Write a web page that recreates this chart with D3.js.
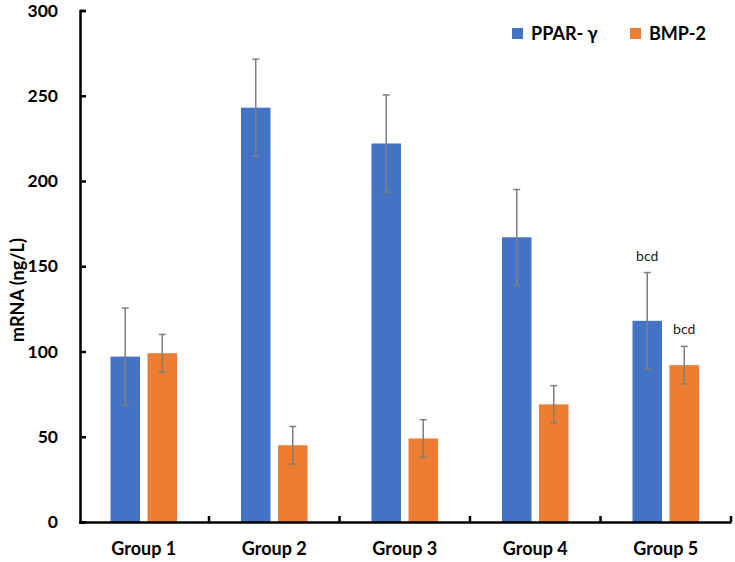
<!DOCTYPE html>
<html><head><meta charset="utf-8">
<script src="https://cdn.jsdelivr.net/npm/d3@7"></script>
<style>body{margin:0;background:#fff}svg{display:block}text{font-family:Lato,"Open Sans",sans-serif}</style>
</head><body>
<script>
const groups = ["Group 1","Group 2","Group 3","Group 4","Group 5"];
const series = ["PPAR- γ","BMP-2"];
const pparValues = [97, 243, 222, 167, 118];
const pparErrors = [28.5, 28.5, 28.5, 28, 28.3];
const bmpValues = [99, 45, 49, 69, 92];
const bmpErrors = [11, 11, 11, 11, 11];
const pparLabels = ["", "", "", "", "bcd"];
const bmpLabels = ["", "", "", "", "bcd"];
const yTicks = [0, 50, 100, 150, 200, 250, 300];
const colors = ["#4472C4", "#ED7D31"];

const W = 735, H = 562;
const svg = d3.select("body").append("svg").attr("width", W).attr("height", H);
const x0 = 78.5, x1 = 731, yTop = 10.5, yBot = 522;
const x = d3.scaleBand().domain(groups).range([x0, x1]).paddingInner(0).paddingOuter(0);
const y = d3.scaleLinear().domain([0, 300]).range([yBot, yTop]);
const barW = 29.5, gap = 7.5;

const data = [];
groups.forEach((g, i) => {
  data.push({g, s: 0, v: pparValues[i], e: pparErrors[i], lab: pparLabels[i]});
  data.push({g, s: 1, v: bmpValues[i], e: bmpErrors[i], lab: bmpLabels[i]});
});
const bx = d => x(d.g) + x.bandwidth()/2 + (d.s === 0 ? -(gap/2 + barW) : gap/2);

svg.selectAll("rect.bar").data(data).enter().append("rect")
  .attr("x", d => bx(d)).attr("width", barW)
  .attr("y", d => y(d.v)).attr("height", d => y(0) - y(d.v))
  .attr("fill", d => colors[d.s]);

const eb = svg.selectAll("g.err").data(data).enter().append("g")
  .attr("stroke", "#7f7f7f").attr("stroke-width", 1.5);
eb.append("line").attr("x1", d => bx(d) + barW/2).attr("x2", d => bx(d) + barW/2)
  .attr("y1", d => y(d.v + d.e)).attr("y2", d => y(d.v - d.e));
eb.append("line").attr("x1", d => bx(d) + barW/2 - 3.5).attr("x2", d => bx(d) + barW/2 + 3.5)
  .attr("y1", d => y(d.v + d.e)).attr("y2", d => y(d.v + d.e));
eb.append("line").attr("x1", d => bx(d) + barW/2 - 3.5).attr("x2", d => bx(d) + barW/2 + 3.5)
  .attr("y1", d => y(d.v - d.e)).attr("y2", d => y(d.v - d.e));

svg.selectAll("text.lab").data(data.filter(d => d.lab)).enter().append("text")
  .attr("x", d => bx(d) + barW/2).attr("y", d => y(d.v + d.e) - 12)
  .attr("text-anchor", "middle").attr("font-size", 14).attr("fill", "#222").text(d => d.lab);

// Y axis
const ya = svg.append("g").attr("transform", `translate(${x0 + 1.5},0)`)
  .call(d3.axisLeft(y).tickValues(yTicks).tickSize(-6).tickPadding(22));
ya.select(".domain").attr("stroke", "#000").attr("stroke-width", 2.5);
ya.selectAll(".tick line").attr("stroke", "#000").attr("stroke-width", 2.5);
ya.selectAll(".tick text").attr("font-size", 17.5).attr("font-weight", "bold").attr("fill", "#000")
  .attr("font-family", "Lato, sans-serif");

// X axis
const xa = svg.append("g").attr("transform", `translate(0,${yBot})`)
  .call(d3.axisBottom(x).tickSize(0).tickPadding(20));
xa.select(".domain").attr("stroke", "#000").attr("stroke-width", 2.5);
xa.selectAll(".tick text").attr("font-size", 18).attr("font-weight", "bold").attr("fill", "#000")
  .attr("font-family", "Lato, sans-serif");
const bounds = groups.map(gg => x(gg)).slice(1).concat([x0 + x.bandwidth()*groups.length]);
xa.selectAll("line.sep").data(bounds).enter().append("line")
  .attr("x1", d => d).attr("x2", d => d).attr("y1", 0).attr("y2", -6)
  .attr("stroke", "#000").attr("stroke-width", 2.5);

// Y title
svg.append("text").attr("transform", "translate(24,290) rotate(-90)")
  .attr("text-anchor", "middle").attr("font-size", 18).attr("font-weight", "bold").text("mRNA (ng/L)");

// Legend
const legX = [512, 630];
series.forEach((s, i) => {
  svg.append("rect").attr("x", legX[i]).attr("y", 28).attr("width", 11).attr("height", 11).attr("fill", colors[i]);
  svg.append("text").attr("x", legX[i] + 19).attr("y", 40).attr("font-size", 18).attr("font-weight", "bold").text(s);
});
</script>
</body></html>
